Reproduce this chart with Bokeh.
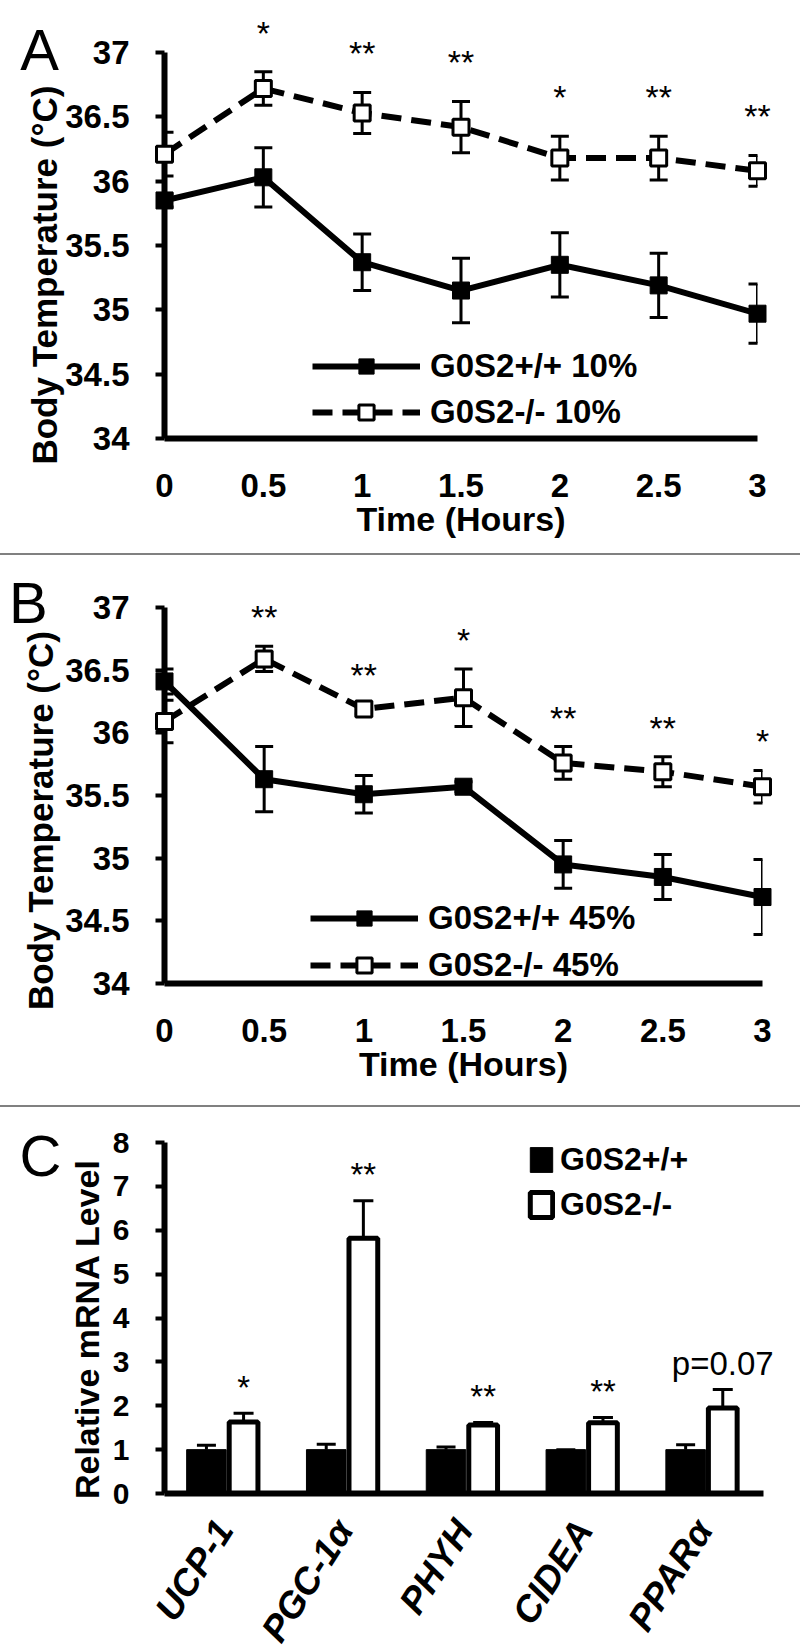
import math
from bokeh.plotting import figure
from bokeh.models import (Range1d, FactorRange, ColumnDataSource, Whisker, TeeHead,
                          Legend, LegendItem, Div)
from bokeh.layouts import column
from bokeh.transform import dodge
from bokeh.core.properties import value
from bokeh.embed import file_html
from bokeh.resources import INLINE

FONT = "Liberation Sans"

# ---------------- data ----------------
time_hours = [0, 0.5, 1, 1.5, 2, 2.5, 3]
time_tick_labels = ["0", "0.5", "1", "1.5", "2", "2.5", "3"]
temp_ticks = [34, 34.5, 35, 35.5, 36, 36.5, 37]
temp_tick_labels = ["34", "34.5", "35", "35.5", "36", "36.5", "37"]

# Panel A (10% diet)
a_wt_mean = [35.85, 36.03, 35.37, 35.15, 35.35, 35.19, 34.97]
a_wt_err = [0.05, 0.23, 0.22, 0.25, 0.25, 0.25, 0.23]
a_ko_mean = [36.21, 36.72, 36.53, 36.42, 36.18, 36.18, 36.08]
a_ko_err = [0.17, 0.13, 0.16, 0.20, 0.17, 0.17, 0.12]
a_sig = ["", "*", "**", "**", "*", "**", "**"]

# Panel B (45% diet)
b_wt_mean = [36.41, 35.63, 35.51, 35.57, 34.95, 34.85, 34.69]
b_wt_err = [0.10, 0.26, 0.15, 0.04, 0.19, 0.18, 0.30]
b_ko_mean = [36.09, 36.59, 36.19, 36.28, 35.76, 35.69, 35.57]
b_ko_err = [0.17, 0.10, 0.04, 0.23, 0.13, 0.12, 0.13]
b_sig = ["", "**", "**", "*", "**", "**", "*"]

# Panel C (mRNA)
genes = ["UCP-1", "PGC-1α", "PHYH", "CIDEA", "PPARα"]
c_wt_mean = [1.0, 1.0, 1.0, 1.0, 1.0]
c_wt_err = [0.10, 0.12, 0.06, 0.0, 0.11]
c_ko_mean = [1.63, 5.82, 1.56, 1.61, 1.95]
c_ko_err = [0.20, 0.85, 0.06, 0.12, 0.42]
c_sig = ["*", "**", "**", "**", "p=0.07"]
mrna_ticks = [0, 1, 2, 3, 4, 5, 6, 7, 8]
mrna_tick_labels = ["0", "1", "2", "3", "4", "5", "6", "7", "8"]

PAGE_W = 800


def style_axes(p, tick_size):
    for ax in (p.xaxis[0], p.yaxis[0]):
        ax.axis_line_width = 6
        ax.axis_line_color = "black"
        ax.major_tick_line_color = "black"
        ax.major_tick_line_width = 4
        ax.major_tick_in = 0
        ax.minor_tick_line_color = None
        ax.major_label_text_font = FONT
        ax.major_label_text_font_style = "bold"
        ax.major_label_text_font_size = tick_size
        ax.major_label_text_color = "black"
        ax.axis_label_text_font = FONT
        ax.axis_label_text_font_style = "bold"
        ax.axis_label_text_font_size = "34px"
        ax.axis_label_text_color = "black"
    p.xaxis.major_tick_out = 0
    p.yaxis.major_tick_out = 9
    p.yaxis.major_label_standoff = 26
    p.xaxis.major_label_standoff = 35
    p.grid.visible = False
    p.outline_line_color = None
    p.background_fill_color = "white"
    p.border_fill_color = "white"


def free_text(p, x, y, text, size, style, angle=0.0, align="left", baseline="middle"):
    # text glyph drawn at overlay level so that it is not clipped to the frame
    p.text(x=x, y=y, text=[text], angle=angle, text_font=value(FONT),
           text_font_size=size, text_font_style=style, text_color="black",
           text_align=align, text_baseline=baseline, level="overlay")


def time_panel(wt, wt_err, ko, ko_err, sig, wt_name, ko_name, letter,
               frame_w, frame_h, b_left, b_right, b_top, b_bottom,
               star_dy, legend_loc, legend_spacing, letter_xy, ytitle_xy):
    p = figure(frame_width=frame_w, frame_height=frame_h,
               min_border_left=b_left, min_border_right=b_right,
               min_border_top=b_top, min_border_bottom=b_bottom,
               x_range=Range1d(0, 3), y_range=Range1d(34, 37),
               output_backend="svg", toolbar_location=None)
    src = ColumnDataSource(dict(
        x=time_hours,
        wt=wt, wt_lo=[m - e for m, e in zip(wt, wt_err)], wt_hi=[m + e for m, e in zip(wt, wt_err)],
        ko=ko, ko_lo=[m - e for m, e in zip(ko, ko_err)], ko_hi=[m + e for m, e in zip(ko, ko_err)],
        sig=sig))
    l_wt = p.line("x", "wt", source=src, line_color="black", line_width=6)
    l_ko = p.line("x", "ko", source=src, line_color="black", line_width=6, line_dash="20 10")
    for lo, hi in (("wt_lo", "wt_hi"), ("ko_lo", "ko_hi")):
        p.add_layout(Whisker(base="x", lower=lo, upper=hi, source=src, line_width=3,
                             line_color="black", level="annotation",
                             upper_head=TeeHead(size=18, line_width=3, line_color="black"),
                             lower_head=TeeHead(size=18, line_width=3, line_color="black")))
    m_wt = p.scatter("x", "wt", source=src, marker="square", size=17,
                     fill_color="black", line_color="black", level="overlay")
    m_ko = p.scatter("x", "ko", source=src, marker="square", size=16,
                     fill_color="white", line_color="black", line_width=3, level="overlay")
    p.text(x="x", y="ko_hi", text="sig", source=src, text_align="center",
           text_baseline="middle", y_offset=star_dy, text_color="black",
           text_font=value(FONT), text_font_size="34px", level="overlay")

    style_axes(p, "33px")
    p.xaxis.ticker = time_hours
    p.xaxis.major_label_overrides = dict(zip(time_hours, time_tick_labels))
    p.yaxis.ticker = temp_ticks
    p.yaxis.major_label_overrides = dict(zip(temp_ticks, temp_tick_labels))
    p.xaxis.axis_label = "Time (Hours)"
    p.xaxis.axis_label_standoff = 0

    legend = Legend(items=[LegendItem(label=wt_name, renderers=[l_wt, m_wt]),
                           LegendItem(label=ko_name, renderers=[l_ko, m_ko])],
                    location=legend_loc, glyph_width=108, glyph_height=38,
                    label_height=38, spacing=legend_spacing, label_standoff=10,
                    padding=0, margin=0, border_line_color=None,
                    background_fill_alpha=0, label_text_font=FONT,
                    label_text_font_style="bold", label_text_font_size="33px",
                    label_text_color="black")
    p.add_layout(legend)
    free_text(p, [ytitle_xy[0]], [ytitle_xy[1]], "Body Temperature (°C)", "35px", "bold",
              angle=math.pi / 2, align="center")
    free_text(p, [letter_xy[0]], [letter_xy[1]], letter, "58px", "normal")
    return p


pA = time_panel(a_wt_mean, a_wt_err, a_ko_mean, a_ko_err, a_sig,
                "G0S2+/+ 10%", "G0S2-/- 10%", "A",
                593, 386, 162, 45, 52, 115, -39, (148, 7), 8,
                (-0.73, 37.027), (-0.607, 35.27))
pB = time_panel(b_wt_mean, b_wt_err, b_ko_mean, b_ko_err, b_sig,
                "G0S2+/+ 45%", "G0S2-/- 45%", "B",
                598, 376, 164, 38, 52, 122, -29, (146, -1), 9,
                (-0.78, 37.036), (-0.622, 35.30))

# ---------------- Panel C ----------------
pC = figure(x_range=FactorRange(factors=genes, range_padding=0), y_range=Range1d(0, 8),
            frame_width=599, frame_height=351, min_border_left=164, min_border_right=37,
            min_border_top=35, min_border_bottom=149,
            output_backend="svg", toolbar_location=None)
srcC = ColumnDataSource(dict(
    gene=genes, wt=c_wt_mean, wt_hi=[m + e for m, e in zip(c_wt_mean, c_wt_err)],
    ko=c_ko_mean, ko_hi=[m + e for m, e in zip(c_ko_mean, c_ko_err)], sig=c_sig))
wt_x = dodge("gene", -0.15, range=pC.x_range)
ko_x = dodge("gene", 0.16, range=pC.x_range)
b_wt = pC.vbar(x=wt_x, top="wt", width=0.33, source=srcC, fill_color="black", line_color="black")
b_ko = pC.vbar(x=ko_x, top="ko", width=0.24, source=srcC, fill_color="white",
               line_color="black", line_width=5)
pC.add_layout(Whisker(base=wt_x, lower="wt", upper="wt_hi", source=srcC, line_width=3,
                      line_color="black", level="annotation", lower_head=None,
                      upper_head=TeeHead(size=19, line_width=3, line_color="black")))
pC.add_layout(Whisker(base=ko_x, lower="ko", upper="ko_hi", source=srcC, line_width=3,
                      line_color="black", level="annotation", lower_head=None,
                      upper_head=TeeHead(size=20, line_width=3, line_color="black")))
pC.text(x=ko_x, y="ko_hi", text="sig", source=srcC, text_align="center",
        text_baseline="middle", y_offset=-26, text_color="black",
        text_font=value(FONT), text_font_size="33px", level="overlay")
style_axes(pC, "30px")
pC.yaxis.ticker = mrna_ticks
pC.yaxis.major_label_overrides = dict(zip(mrna_ticks, mrna_tick_labels))
pC.xaxis.major_label_orientation = 1.0
pC.xaxis.major_label_text_font_style = "bold italic"
pC.xaxis.major_label_text_font_size = "37px"
pC.xaxis.major_label_standoff = 30
legC = Legend(items=[LegendItem(label="G0S2+/+", renderers=[b_wt]),
                     LegendItem(label="G0S2-/-", renderers=[b_ko])],
              location=(363, 270), glyph_width=28, glyph_height=31, label_height=37,
              spacing=8, label_standoff=5, padding=0, margin=0, border_line_color=None,
              background_fill_alpha=0, label_text_font=FONT, label_text_font_style="bold",
              label_text_font_size="32px", label_text_color="black")
pC.add_layout(legC)
# free texts of panel C, placed relative to the first category
anchor = ColumnDataSource(dict(g=[genes[0]], ytitle=[3.75], yletter=[7.70],
                               ttitle=["Relative mRNA Level"], tletter=["C"]))
pC.text(x=dodge("g", -1.143, range=pC.x_range), y="ytitle", text="ttitle", source=anchor,
        angle=math.pi / 2, text_font=value(FONT), text_font_size="34px",
        text_font_style="bold", text_color="black", text_align="center",
        text_baseline="middle", level="overlay")
pC.text(x=dodge("g", -1.71, range=pC.x_range), y="yletter", text="tletter", source=anchor,
        text_font=value(FONT), text_font_size="58px", text_color="black",
        text_align="left", text_baseline="middle", level="overlay")


def separator():
    return Div(text="", width=PAGE_W, height=2, margin=(0, 0, 0, 0),
               styles={"background-color": "#808080"})


layout = column(pA, separator(), pB, separator(), pC, spacing=0)
open("out.html", "w").write(file_html(layout, INLINE))
